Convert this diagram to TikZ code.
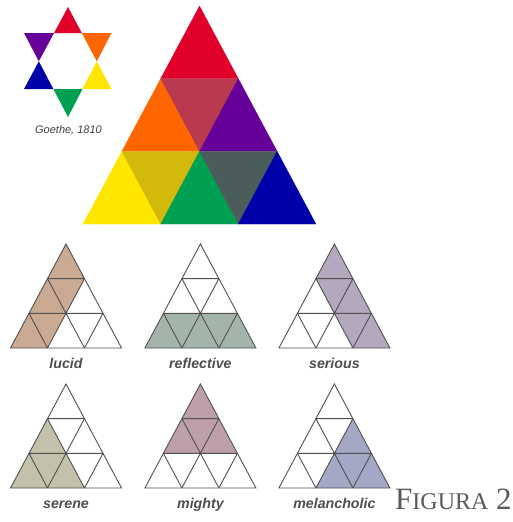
\documentclass[tikz,border=0pt]{standalone}
\usepackage{fontspec}
\setmainfont{Liberation Serif}
\newfontfamily\labfont{Liberation Sans}
\definecolor{gred}{RGB}{224,0,42}
\definecolor{gorange}{RGB}{255,102,0}
\definecolor{gpurple}{RGB}{102,0,153}
\definecolor{gyellow}{RGB}{255,230,0}
\definecolor{ggreen}{RGB}{0,160,82}
\definecolor{gblue}{RGB}{0,0,170}
\definecolor{gcrimson}{RGB}{185,58,78}
\definecolor{gmustard}{RGB}{210,185,10}
\definecolor{gslate}{RGB}{75,93,90}
\definecolor{clucid}{RGB}{203,170,148}
\definecolor{creflective}{RGB}{163,180,170}
\definecolor{cserious}{RGB}{180,168,190}
\definecolor{cserene}{RGB}{196,193,170}
\definecolor{cmighty}{RGB}{190,160,168}
\definecolor{cmelan}{RGB}{165,168,196}
\definecolor{gridline}{RGB}{80,80,80}
\definecolor{labgray}{RGB}{77,77,77}
\definecolor{figgray}{RGB}{90,90,90}
\tikzset{
  cell/.style={fill=#1, draw=#1, line width=0.3pt},
  gridtri/.style={draw=gridline, line width=0.9pt, line join=miter},
  lab/.style={anchor=base, text=labgray, font=\labfont\bfseries\itshape\fontsize{14.2}{16}\selectfont, inner sep=0pt},
}
\newcommand{\tgrid}[4]{%
  \begin{scope}[shift={(#1,#2)}, x=18.5pt, y=-34.667pt]
    \fill[#3] #4;
    \draw[gridtri] (0,0) -- (-3,3) -- (3,3) -- cycle;
    \draw[gridtri] (-1,1) -- (1,1) (-2,2) -- (2,2)
      (1,1) -- (-1,3) (2,2) -- (1,3)
      (-1,1) -- (1,3) (-2,2) -- (-1,3);
  \end{scope}}
\begin{document}
\begin{tikzpicture}[x=1pt,y=-1pt]
\useasboundingbox (0,0) rectangle (513,522);
% hexagram
\coordinate (A) at (68,7);
\coordinate (B) at (24,89);
\coordinate (C) at (111.5,89);
\coordinate (D) at (24,33);
\coordinate (E) at (111.5,33);
\coordinate (F) at (68,117);
\coordinate (p1) at (intersection of A--B and D--E);
\coordinate (p2) at (intersection of A--C and D--E);
\coordinate (p3) at (intersection of A--B and D--F);
\coordinate (p4) at (intersection of A--C and E--F);
\coordinate (p5) at (intersection of B--C and D--F);
\coordinate (p6) at (intersection of B--C and E--F);
\fill[gred] (A) -- (p1) -- (p2) -- cycle;
\fill[gpurple] (D) -- (p1) -- (p3) -- cycle;
\fill[gorange] (E) -- (p2) -- (p4) -- cycle;
\fill[gblue] (B) -- (p3) -- (p5) -- cycle;
\fill[gyellow] (C) -- (p4) -- (p6) -- cycle;
\fill[ggreen] (F) -- (p5) -- (p6) -- cycle;
\node[anchor=base, text=black!75, font=\labfont\itshape\fontsize{11}{13}\selectfont, inner sep=0pt] (goethe) at (68.5,133) {Goethe, 1810};
% big triangle
\begin{scope}[shift={(199.5,6)}, x=38.8pt, y=-72.67pt]
  \path[cell=gred] (0,0) -- (-1,1) -- (1,1) -- cycle;
  \path[cell=gorange] (-1,1) -- (-2,2) -- (0,2) -- cycle;
  \path[cell=gcrimson] (-1,1) -- (1,1) -- (0,2) -- cycle;
  \path[cell=gpurple] (1,1) -- (0,2) -- (2,2) -- cycle;
  \path[cell=gyellow] (-2,2) -- (-3,3) -- (-1,3) -- cycle;
  \path[cell=gmustard] (-2,2) -- (0,2) -- (-1,3) -- cycle;
  \path[cell=ggreen] (0,2) -- (-1,3) -- (1,3) -- cycle;
  \path[cell=gslate] (0,2) -- (2,2) -- (1,3) -- cycle;
  \path[cell=gblue] (2,2) -- (1,3) -- (3,3) -- cycle;
\end{scope}
% small triangles
\tgrid{66}{244}{clucid}{(0,0) -- (1,1) -- (-1,3) -- (-3,3) -- cycle}
\tgrid{200.4}{244}{creflective}{(-2,2) -- (2,2) -- (3,3) -- (-3,3) -- cycle}
\tgrid{334.4}{244}{cserious}{(0,0) -- (-1,1) -- (1,3) -- (3,3) -- cycle}
\tgrid{66}{384}{cserene}{(-1,1) -- (-3,3) -- (1,3) -- cycle}
\tgrid{200.4}{384}{cmighty}{(0,0) -- (-2,2) -- (2,2) -- cycle}
\tgrid{334.4}{384}{cmelan}{(1,1) -- (-1,3) -- (3,3) -- cycle}
\node[lab] (lucid) at (66,368) {lucid};
\node[lab] (reflective) at (200.4,368) {reflective};
\node[lab] (serious) at (334.4,368) {serious};
\node[lab] (serene) at (66,508) {serene};
\node[lab] (mighty) at (200.4,508) {mighty};
\node[lab] (melancholic) at (334.4,508) {melancholic};
\node[anchor=base west, inner sep=0pt, text=figgray, font=\fontsize{31}{34}\selectfont] (fig) at (395,509) {F{\fontsize{24}{26}\selectfont IGURA} 2};
\end{tikzpicture}
\end{document}
